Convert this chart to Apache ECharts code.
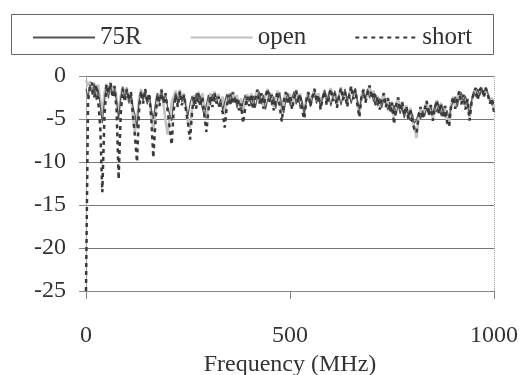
<!DOCTYPE html>
<html>
<head>
<meta charset="utf-8">
<script src="https://cdn.jsdelivr.net/npm/echarts@6/dist/echarts.min.js"></script>
<style>
  html, body { margin: 0; padding: 0; background: #fff; }
  #chart { width: 522px; height: 375px; }
</style>
</head>
<body>
<div id="chart"></div>
<script>
// readings every 5 MHz, 0..1000 MHz (one row = 50 MHz)
const freqStep = 5;
const xTicks = [0, 500, 1000];
const yTicks = [0, -5, -10, -15, -20, -25];

const r75 = [
  -1.5, -2.5, -1.0, -2.2, -0.9, -2.8, -1.6, -3.5, -5.5, -3.0,
  -1.2, -2.6, -1.0, -2.3, -1.4, -3.0, -5.0, -2.6, -1.3, -2.5,
  -1.6, -3.2, -2.0, -3.5, -4.5, -6.0, -3.0, -1.8, -2.9, -1.9,
  -3.3, -2.2, -3.8, -5.0, -3.2, -2.0, -3.1, -1.7, -2.9, -2.1,
  -3.6, -4.5, -5.2, -3.0, -2.0, -3.3, -1.9, -3.0, -2.2, -3.7,
  -4.6, -3.2, -2.3, -3.5, -2.0, -3.1, -2.3, -3.8, -4.6, -3.3,
  -2.2, -3.4, -2.1, -3.0, -2.4, -3.6, -2.7, -4.0, -3.0, -2.1,
  -3.2, -2.0, -3.1, -2.4, -3.7, -2.8, -4.1, -3.0, -2.2, -3.3,
  -2.4, -3.5, -2.3, -3.7, -2.5, -1.8, -3.3, -2.2, -3.9, -2.8,
  -1.9, -3.4, -2.4, -3.8, -2.6, -1.9, -3.5, -4.3, -2.7, -2.0,
  -3.4, -2.5, -1.8, -3.3, -2.3, -3.8, -2.9, -4.4, -3.0, -2.2,
  -3.6, -2.6, -1.9, -3.2, -2.5, -3.7, -2.4, -1.6, -3.0, -2.1,
  -3.5, -2.5, -1.7, -3.1, -2.2, -3.4, -2.3, -1.5, -2.9, -2.0,
  -3.2, -2.2, -1.4, -2.8, -3.9, -2.6, -1.8, -2.7, -1.5, -2.6,
  -1.9, -3.0, -2.1, -3.5, -2.6, -3.7, -2.7, -3.2, -4.0, -3.0,
  -4.3, -3.4, -4.6, -3.3, -4.4, -3.6, -4.9, -3.9, -4.5, -5.2,
  -4.4, -5.5, -5.1, -4.2, -5.0, -4.0, -4.7, -3.7, -4.3, -3.5,
  -4.5, -3.4, -4.2, -3.3, -4.6, -3.7, -4.8, -4.0, -4.9, -3.6,
  -3.0, -2.4, -3.6, -2.5, -1.9, -3.0, -2.3, -3.4, -4.5, -2.9,
  -1.8, -2.4, -1.5, -2.3, -1.5, -1.9, -1.3, -2.0, -2.8, -3.4,
  -3.0
];

const open = [
  -0.5, -1.2, -0.6, -1.8, -0.8, -2.2, -1.0, -2.8, -4.5, -2.0,
  -0.9, -2.0, -0.7, -1.9, -1.1, -2.7, -4.5, -2.4, -1.2, -2.2,
  -1.3, -3.0, -2.0, -4.8, -6.5, -5.0, -2.6, -1.5, -2.6, -1.6,
  -3.0, -2.3, -4.5, -6.4, -4.2, -2.0, -2.9, -1.5, -3.4, -5.2,
  -6.8, -4.8, -3.0, -2.4, -1.7, -3.0, -1.6, -2.8, -2.0, -3.3,
  -5.4, -6.0, -3.8, -2.2, -3.2, -1.8, -2.9, -2.0, -3.6, -5.0,
  -3.4, -2.0, -3.0, -1.8, -2.8, -2.1, -3.3, -2.4, -4.5, -3.0,
  -2.0, -3.1, -1.8, -2.9, -2.2, -3.5, -2.6, -4.2, -3.0, -2.1,
  -3.0, -2.0, -3.3, -2.4, -1.6, -2.9, -2.0, -3.5, -2.3, -1.5,
  -2.8, -2.0, -3.6, -2.5, -1.7, -3.0, -4.2, -2.6, -1.8, -3.1,
  -2.1, -3.5, -2.4, -1.6, -2.9, -2.0, -3.7, -4.3, -2.6, -1.8,
  -3.2, -2.3, -1.5, -2.8, -2.0, -3.6, -2.4, -1.7, -3.1, -2.1,
  -1.4, -2.7, -1.9, -3.4, -2.2, -1.3, -2.6, -1.8, -3.3, -2.1,
  -1.2, -2.5, -1.6, -3.0, -4.4, -2.3, -1.5, -2.9, -1.9, -1.1,
  -2.4, -1.7, -3.1, -2.3, -3.6, -2.7, -2.0, -3.4, -2.5, -3.9,
  -3.0, -4.8, -3.3, -2.5, -3.8, -3.0, -4.4, -3.4, -4.8, -3.7,
  -5.2, -5.9, -7.2, -5.0, -3.7, -4.8, -3.8, -2.9, -4.4, -3.3,
  -5.0, -3.7, -2.8, -4.2, -3.1, -4.7, -3.4, -5.2, -5.6, -3.3,
  -2.4, -3.6, -2.5, -1.8, -3.1, -2.1, -3.7, -2.6, -4.8, -3.0,
  -2.0, -1.4, -2.6, -1.6, -1.3, -2.4, -1.4, -2.1, -3.0, -2.5,
  -3.8
];

const short = [
  -25, -3.0, -1.0, -0.8, -2.5, -1.0, -3.0, -6.0, -13.5, -5.0,
  -1.0, -2.0, -0.8, -2.5, -1.2, -4.0, -12.0, -4.5, -1.5, -3.0,
  -1.5, -2.8, -1.8, -4.5, -7.0, -10.0, -4.0, -1.8, -3.2, -1.5,
  -3.0, -2.0, -5.0, -9.5, -5.5, -2.2, -3.5, -1.6, -3.2, -2.0,
  -4.0, -6.0, -8.0, -4.0, -2.2, -3.6, -1.8, -3.4, -2.2, -4.0,
  -5.5, -7.4, -4.2, -2.4, -3.8, -2.0, -3.5, -2.4, -4.5, -6.5,
  -4.0, -2.3, -3.6, -2.0, -3.2, -2.4, -3.8, -4.2, -6.0, -3.6,
  -2.2, -3.4, -1.9, -3.3, -2.5, -4.0, -3.2, -5.5, -3.8, -2.4,
  -3.5, -2.1, -3.9, -2.6, -1.6, -3.2, -2.0, -3.8, -2.4, -1.5,
  -3.0, -2.2, -4.0, -2.7, -1.8, -3.6, -5.3, -2.9, -1.9, -3.3,
  -2.3, -3.9, -2.6, -1.7, -3.1, -2.1, -4.1, -5.0, -2.8, -1.9,
  -3.5, -2.4, -1.5, -3.0, -2.2, -3.9, -2.6, -1.8, -3.4, -2.3,
  -1.5, -2.9, -2.0, -3.7, -2.4, -1.4, -2.8, -1.9, -3.6, -2.3,
  -1.2, -2.7, -1.6, -3.3, -4.8, -2.5, -1.6, -3.1, -2.0, -1.1,
  -2.6, -1.8, -3.4, -2.4, -3.9, -2.8, -2.0, -3.6, -2.6, -4.2,
  -3.1, -5.6, -3.4, -2.5, -4.0, -3.0, -4.6, -3.5, -5.0, -3.8,
  -5.4, -6.2, -6.6, -4.8, -3.6, -5.0, -3.9, -2.9, -4.6, -3.4,
  -5.2, -3.8, -2.8, -4.4, -3.2, -4.9, -3.5, -5.4, -5.9, -3.4,
  -2.4, -3.8, -2.6, -1.8, -3.3, -2.2, -3.9, -2.7, -5.2, -3.1,
  -2.0, -1.4, -2.8, -1.6, -1.3, -2.5, -1.4, -2.2, -3.2, -2.6,
  -4.2
];

const serif = '"Times New Roman", "Liberation Serif", "DejaVu Serif", serif';
const pairs = (vals) => vals.map((v, i) => [i * freqStep, v]);

const myChart = echarts.init(document.getElementById('chart'), null, { renderer: 'canvas' });

const option = {
  backgroundColor: '#ffffff',
  animation: false,
  graphic: [{
    type: 'rect',
    left: 9, top: 12,
    shape: { width: 482, height: 40 },
    style: { fill: 'none', stroke: '#666', lineWidth: 1 },
    z: 0
  }],
  legend: {
    data: ['75R', 'open', 'short'],
    left: 27,
    top: 20,
    itemWidth: 62,
    itemHeight: 14,
    itemGap: 48,
    itemStyle: { opacity: 0 },
    textStyle: { fontFamily: serif, fontSize: 25, color: '#333' }
  },
  grid: { left: 86, right: 28, top: 76, bottom: 84, outerBoundsMode: 'none' },
  xAxis: {
    type: 'value',
    min: xTicks[0],
    max: xTicks[xTicks.length - 1],
    interval: 500,
    name: 'Frequency (MHz)',
    nameLocation: 'middle',
    nameGap: 58,
    nameTextStyle: { fontFamily: serif, fontSize: 24, color: '#333' },
    axisLine: { show: true, onZero: false, lineStyle: { color: '#888' } },
    axisTick: { show: true, length: 8, lineStyle: { color: '#888' } },
    axisLabel: { margin: 33, fontFamily: serif, fontSize: 24, color: '#333', formatter: (v) => String(v) },
    splitLine: { show: false }
  },
  yAxis: {
    type: 'value',
    min: yTicks[yTicks.length - 1],
    max: yTicks[0],
    interval: 5,
    axisLine: { show: true, lineStyle: { color: '#aaa' } },
    axisTick: { show: true, length: 7, lineStyle: { color: '#888' } },
    axisLabel: { margin: 20, fontFamily: serif, fontSize: 24, color: '#333' },
    splitLine: { show: true, lineStyle: { color: '#777', width: 1 } }
  },
  series: [
    {
      name: '75R',
      type: 'line',
      data: pairs(r75),
      symbol: 'none',
      z: 3,
      lineStyle: { color: '#555', width: 1.2 },
      itemStyle: { color: '#555' }
    },
    {
      name: 'open',
      type: 'line',
      data: pairs(open),
      symbol: 'none',
      z: 2,
      lineStyle: { color: '#c2c2c2', width: 2.5 },
      itemStyle: { color: '#c2c2c2' },
      markLine: {
        silent: true,
        symbol: 'none',
        label: { show: false },
        lineStyle: { color: '#aaa', type: 'dotted', width: 1 },
        data: [{ xAxis: 1000 }]
      }
    },
    {
      name: 'short',
      type: 'line',
      data: pairs(short),
      symbol: 'none',
      z: 4,
      lineStyle: { color: '#3a3a3a', width: 2.5, type: [4, 4] },
      itemStyle: { color: '#3a3a3a' }
    }
  ]
};

myChart.setOption(option, true);
</script>
</body>
</html>
